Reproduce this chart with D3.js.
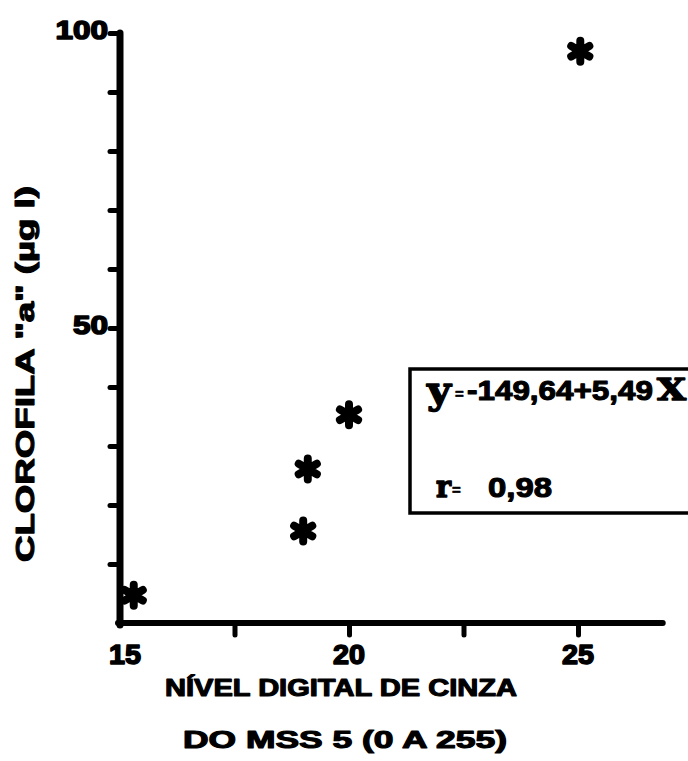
<!DOCTYPE html>
<html>
<head>
<meta charset="utf-8">
<script src="https://cdn.jsdelivr.net/npm/d3@7/dist/d3.min.js"></script>
<style>
  html, body { margin: 0; padding: 0; background: #fff; }
  svg { display: block; }
  text { font-family: "Liberation Sans", Arial, sans-serif; font-weight: bold; fill: #000; stroke: #000; stroke-width: 1.1px; stroke-linejoin: round; }
</style>
</head>
<body>
<script>
// Gray level (MSS band 5) against chlorophyll "a"
const grayLevel   = [15.3, 19.0, 19.1, 20.0, 25.05];
const chlorophyll = [4.7, 15.6, 26.1, 35.3, 96.9];

const xTickValues = [15, 17.5, 20, 22.5, 25];
const xTickLabels = ["15", "", "20", "", "25"];
const yTickValues = [10, 20, 30, 40, 50, 60, 70, 80, 90, 100];
const yTickLabels = ["", "", "", "", "50", "", "", "", "", "100"];

const xTitle = ["NÍVEL  DIGITAL DE  CINZA", "DO  MSS 5 (0 A  255)"];
const yTitle = "CLOROFILA \"a\" (µg l)";
const regression = { y: "y", eq: "-149,64+5,49", x: "X", r: "r", rVal: "0,98" };

const W = 688, H = 761;
const svg = d3.select("body").append("svg").attr("width", W).attr("height", H);

const x = d3.scaleLinear().domain([15, 25]).range([120, 578]);
const y = d3.scaleLinear().domain([0, 100]).range([623, 33]);

// Axes: heavy hand-inked lines
const axisG = svg.append("g");
axisG.append("line")
  .attr("x1", x(15)).attr("x2", x(15)).attr("y1", y(100)).attr("y2", y(0) + 2)
  .attr("stroke", "#000").attr("stroke-width", 7).attr("stroke-linecap", "round");
axisG.append("line")
  .attr("x1", x(15) - 2).attr("x2", x(26.85)).attr("y1", y(0)).attr("y2", y(0))
  .attr("stroke", "#000").attr("stroke-width", 6).attr("stroke-linecap", "round");

// y ticks and labels
const yAxis = d3.axisLeft(y).tickValues(yTickValues).tickSize(8)
  .tickFormat((d, i) => yTickLabels[i]);
const yg = svg.append("g").attr("transform", `translate(${x(15) - 2},0)`).call(yAxis);
yg.select(".domain").remove();
yg.selectAll(".tick line").attr("stroke", "#000").attr("stroke-width", 5).attr("stroke-linecap", "round");
yg.selectAll(".tick text")
  .attr("x", -10).attr("dy", "0.2em")
  .style("font-size", "26px").style("font-family", "'Liberation Sans', Arial, sans-serif")
  .style("font-weight", "bold").attr("fill", "#000")
  .style("stroke", "#000").style("stroke-width", "1.6px")
  .each(function (d, i) {
    const t = yTickLabels[i];
    if (t) d3.select(this).attr("textLength", t.length * 17.5).attr("lengthAdjust", "spacingAndGlyphs");
  });

// x ticks and labels
const xAxis = d3.axisBottom(x).tickValues(xTickValues.slice(1)).tickSize(11)
  .tickFormat("");
const xg = svg.append("g").attr("transform", `translate(0,${y(0) + 1})`).call(xAxis);
xg.select(".domain").remove();
xg.selectAll(".tick line").attr("stroke", "#000").attr("stroke-width", 5).attr("stroke-linecap", "round");

svg.append("g").selectAll("text")
  .data(xTickValues.map((v, i) => ({ v, t: xTickLabels[i] })).filter(d => d.t))
  .join("text")
  .attr("x", d => x(d.v) + (d.v === 15 ? 5 : 0))
  .attr("y", 664)
  .attr("text-anchor", "middle")
  .attr("textLength", 32).attr("lengthAdjust", "spacingAndGlyphs")
  .style("font-size", "28px").style("stroke-width", "1.6px")
  .text(d => d.t);

// Axis titles
svg.append("text")
  .attr("transform", "translate(34,374) rotate(-90)")
  .attr("text-anchor", "middle")
  .attr("textLength", 376).attr("lengthAdjust", "spacingAndGlyphs")
  .style("font-size", "25px")
  .text(yTitle);

svg.append("text")
  .attr("x", 341).attr("y", 696)
  .attr("text-anchor", "middle")
  .attr("textLength", 352).attr("lengthAdjust", "spacingAndGlyphs")
  .style("font-size", "23px")
  .text(xTitle[0]);
svg.append("text")
  .attr("x", 345).attr("y", 748)
  .attr("text-anchor", "middle")
  .attr("textLength", 324).attr("lengthAdjust", "spacingAndGlyphs")
  .style("font-size", "23px")
  .text(xTitle[1]);

// Regression box
const box = svg.append("g");
box.append("rect")
  .attr("x", 410).attr("y", 369).attr("width", 300).attr("height", 144)
  .attr("fill", "#fff").attr("stroke", "#000").attr("stroke-width", 3.5);

const serif = "'DejaVu Serif', 'Liberation Serif', serif";
box.append("text").attr("x", 427).attr("y", 403)
  .attr("textLength", 24).attr("lengthAdjust", "spacingAndGlyphs")
  .style("font-family", serif).style("font-size", "38px").style("stroke-width", "1.4px")
  .text(regression.y);
box.append("text").attr("x", 455).attr("y", 399)
  .style("font-size", "15px").style("stroke-width", "0.6px").text("=");
box.append("text").attr("x", 467).attr("y", 400)
  .attr("textLength", 186).attr("lengthAdjust", "spacingAndGlyphs")
  .style("font-size", "28px")
  .text(regression.eq);
box.append("text").attr("x", 657).attr("y", 400)
  .attr("textLength", 29).attr("lengthAdjust", "spacingAndGlyphs")
  .style("font-family", serif).style("font-size", "30px").style("stroke-width", "1.4px")
  .text(regression.x);

box.append("text").attr("x", 436).attr("y", 497)
  .attr("textLength", 15).attr("lengthAdjust", "spacingAndGlyphs")
  .style("font-family", serif).style("font-size", "30px").style("stroke-width", "1.4px")
  .text(regression.r);
box.append("text").attr("x", 452).attr("y", 495)
  .style("font-size", "15px").style("stroke-width", "0.6px").text("=");
box.append("text").attr("x", 488).attr("y", 497)
  .attr("textLength", 64).attr("lengthAdjust", "spacingAndGlyphs")
  .style("font-size", "28px")
  .text(regression.rVal);

// Data points drawn as asterisks
const pts = grayLevel.map((g, i) => ({ g, c: chlorophyll[i] }));
const star = d3.symbol().type(d3.symbolAsterisk).size(310);
const pg = svg.append("g");
pg.selectAll("path")
  .data(pts)
  .join("path")
  .attr("transform", d => `translate(${x(d.g)},${y(d.c)})`)
  .attr("d", star)
  .attr("fill", "none").attr("stroke", "#000")
  .attr("stroke-width", 8).attr("stroke-linecap", "round");
pg.selectAll("circle")
  .data(pts)
  .join("circle")
  .attr("cx", d => x(d.g)).attr("cy", d => y(d.c)).attr("r", 6)
  .attr("fill", "#000");
</script>
</body>
</html>
